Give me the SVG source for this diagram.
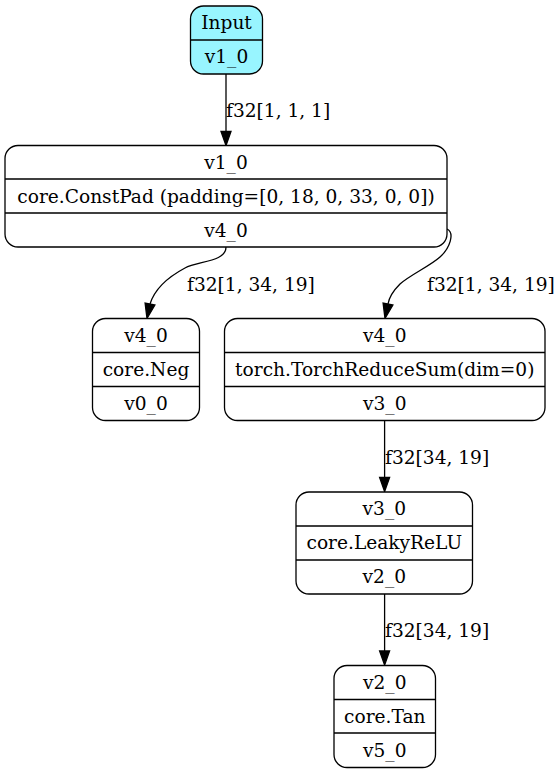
<svg xmlns="http://www.w3.org/2000/svg" width="560" height="774" viewBox="0 0 560 774">
<style>
.box{fill:#ffffff;stroke:#000;stroke-width:1.3}
.in{fill:#98f5ff}
.div{stroke:#000;stroke-width:1.3;fill:none}
text{font-family:"DejaVu Serif","Liberation Serif",serif;font-size:18.6px;fill:#000}
.c{text-anchor:middle}
.e{fill:none;stroke:#000;stroke-width:1.3}
.ah{fill:#000;stroke:#000;stroke-width:1.3}
</style>
<rect width="560" height="774" fill="#ffffff"/>
<g id="connectors">
<path class="e" d="M226,74 V131.5"/>
<polygon class="ah" points="226,145.5 221,131.5 231,131.5"/>
<text x="226" y="116.5">f32[1, 1, 1]</text>
<path class="e" d="M226,247 C226,262 198,261 185,268 C170,276 155,288 150,304"/>
<polygon class="ah" points="147,318.5 154.9,305 145.1,303"/>
<text x="187" y="290.5">f32[1, 34, 19]</text>
<path class="e" d="M447,229 C455,233 450,248 440,257 C430,266 410,275 400,284 C393,291 389,298 388,304"/>
<polygon class="ah" points="385,318.5 392.9,305 383.1,303"/>
<text x="427" y="290.5">f32[1, 34, 19]</text>
<path class="e" d="M384.6,420.5 V477.5"/>
<polygon class="ah" points="384.6,491.5 379.6,477.5 389.6,477.5"/>
<text x="385" y="464">f32[34, 19]</text>
<path class="e" d="M384.6,593.5 V651"/>
<polygon class="ah" points="384.6,665 379.6,651 389.6,651"/>
<text x="385" y="637">f32[34, 19]</text>
</g>
<g id="input">
<rect class="box in" x="190.5" y="6" width="72" height="68" rx="13"/>
<path class="div" d="M190.5,40 H262.5"/>
<text class="c" x="226.5" y="29.3">Input</text>
<text class="c" x="226.5" y="63.3">v1_0</text>
</g>
<g id="constpad">
<rect class="box" x="5" y="145.5" width="442" height="101.5" rx="13"/>
<path class="div" d="M5,179 H447 M5,213 H447"/>
<text class="c" x="226" y="168.6">v1_0</text>
<text class="c" x="226" y="203">core.ConstPad (padding=[0, 18, 0, 33, 0, 0])</text>
<text class="c" x="226" y="236.8">v4_0</text>
</g>
<g id="neg">
<rect class="box" x="92.5" y="318.5" width="107" height="102" rx="13"/>
<path class="div" d="M92.5,352.5 H199.5 M92.5,386.5 H199.5"/>
<text class="c" x="146" y="341.8">v4_0</text>
<text class="c" x="146" y="375.8">core.Neg</text>
<text class="c" x="146" y="409.8">v0_0</text>
</g>
<g id="reducesum">
<rect class="box" x="224.5" y="318.5" width="320.5" height="102" rx="13"/>
<path class="div" d="M224.5,352.5 H545 M224.5,386.5 H545"/>
<text class="c" x="384.75" y="341.8">v4_0</text>
<text class="c" x="384.75" y="375.8">torch.TorchReduceSum(dim=0)</text>
<text class="c" x="384.75" y="409.8">v3_0</text>
</g>
<g id="leakyrelu">
<rect class="box" x="296" y="492" width="176.5" height="102" rx="13"/>
<path class="div" d="M296,526 H472.5 M296,560 H472.5"/>
<text class="c" x="384.3" y="515.3">v3_0</text>
<text class="c" x="384.3" y="549.3">core.LeakyReLU</text>
<text class="c" x="384.3" y="583.3">v2_0</text>
</g>
<g id="tan">
<rect class="box" x="334" y="665.5" width="101.5" height="102" rx="13"/>
<path class="div" d="M334,699.5 H435.5 M334,733 H435.5"/>
<text class="c" x="384.75" y="688.8">v2_0</text>
<text class="c" x="384.75" y="722.8">core.Tan</text>
<text class="c" x="384.75" y="756.8">v5_0</text>
</g>
</svg>
